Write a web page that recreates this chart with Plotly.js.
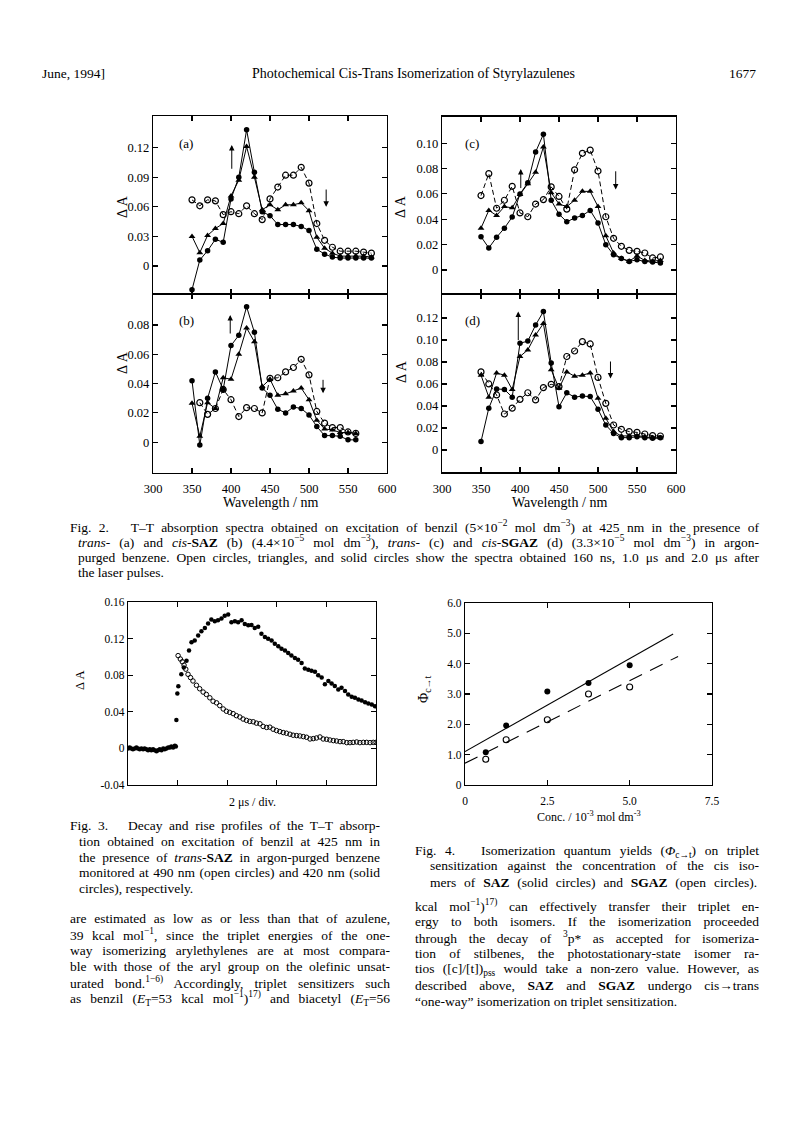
<!DOCTYPE html>
<html><head><meta charset="utf-8">
<script src="https://cdn.plot.ly/plotly-3.0.1.min.js"></script>
<style>html,body{margin:0;padding:0;background:#fff}#chart{width:793px;height:1121px}</style>
</head><body><div id="chart"></div>
<script>
// ---------- DATA ----------
const wavelength = [350,360,370,380,390,400,410,420,430,440,450,460,470,480,490,500,510,520,530,540,550,560,570,580];
const wavelengthB = [350,360,370,380,390,400,410,420,430,440,450,460,470,480,490,500,510,520,530,540,550,560];

// Panel (a) trans-SAZ
const a_open160 = [0.067,0.061,0.067,0.066,0.052,0.055,0.053,0.061,0.053,0.047,0.068,0.080,0.092,0.092,0.100,0.084,0.043,0.026,0.019,0.015,0.015,0.015,0.014,0.013];
const a_tri1us  = [0.030,0.0135,0.031,0.038,0.043,0.071,0.087,0.121,0.090,0.057,0.062,0.057,0.062,0.062,0.064,0.056,0.029,0.018,0.013,0.010,0.010,0.010,0.010,0.009];
const a_solid2us= [-0.024,0.006,0.0155,0.027,0.024,0.068,0.090,0.138,0.095,0.055,0.051,0.042,0.042,0.042,0.040,0.036,0.017,0.012,0.009,0.008,0.008,0.008,0.008,0.008];

// Panel (b) cis-SAZ
const b_open160 = [null,0.027,0.019,0.023,0.036,0.029,0.0175,0.0236,0.023,0.020,0.0436,0.044,0.048,0.051,0.0566,0.046,0.021,0.013,0.010,0.010,0.007,0.006];
const b_tri1us  = [0.0266,0.004,0.027,0.023,0.044,0.043,0.060,0.078,0.0686,0.038,0.043,0.032,0.033,0.035,0.037,0.029,0.015,0.009,0.0084,0.0066,0.0066,0.006];
const b_solid2us= [0.042,-0.002,0.030,0.048,0.036,0.066,0.073,0.0925,0.075,0.037,0.032,0.0225,0.020,0.024,0.023,0.0186,0.0107,0.0045,0.0045,0.004,0.0016,0.0016];

// Panel (c) trans-SGAZ
const c_open160 = [0.0587,0.076,0.0487,0.055,0.066,0.045,0.042,0.052,0.0555,0.0655,0.058,0.048,0.079,0.092,0.0945,0.078,0.042,0.025,0.0187,0.0155,0.0147,0.0134,0.0095,0.0103];
const c_tri1us  = [0.033,0.047,0.043,0.050,0.049,0.0595,0.068,0.077,0.097,0.061,0.052,0.050,0.055,0.062,0.062,0.050,0.027,0.0134,0.009,0.007,0.011,0.0076,0.007,0.0076];
const c_solid2us= [0.0263,0.0174,0.0258,0.033,0.0418,0.060,0.0687,0.093,0.107,0.055,0.044,0.038,0.041,0.043,0.047,0.037,0.020,0.012,0.009,0.0068,0.008,0.0068,0.0063,0.0055];

// Panel (d) cis-SGAZ
const d_open160 = [0.071,0.060,0.050,0.0327,0.038,0.046,0.052,0.0455,0.0567,0.0597,0.0576,0.085,0.090,0.0985,0.0964,0.066,0.0424,0.0227,0.0188,0.0167,0.016,0.0145,0.013,0.0127];
const d_tri1us  = [0.068,0.048,0.070,0.068,0.055,0.085,0.091,0.1045,0.115,0.073,0.056,0.071,0.067,0.068,0.070,0.047,0.0288,0.0167,0.0127,0.0127,0.013,0.012,0.011,0.011];
const d_solid2us= [0.0076,0.038,0.0555,0.055,0.048,0.097,0.099,0.1136,0.1258,0.079,0.0394,0.052,0.048,0.049,0.0485,0.037,0.0227,0.015,0.0112,0.0112,0.012,0.011,0.0106,0.011];

// Fig. 3 time profiles (time in microseconds)
const t420 = [0.00,0.07,0.13,0.20,0.27,0.34,0.40,0.47,0.54,0.61,0.67,0.74,0.81,0.88,0.94,1.01,1.08,1.15,1.21,1.28,1.35,1.42,1.48,1.55,1.62,1.69,1.75,1.82,1.89,1.93,
  1.95,1.99,2.03,2.15,2.25,2.36,2.46,2.56,2.69,2.83,2.96,3.10,3.23,3.36,3.50,3.63,3.77,3.90,4.04,4.17,4.31,4.44,4.58,4.71,4.85,4.98,5.11,5.25,5.38,5.52,5.65,5.79,5.92,6.06,6.19,6.33,6.46,6.59,6.73,6.86,7.00,7.13,7.27,7.40,7.54,7.67,7.81,7.94,8.08,8.21,8.34,8.48,8.61,8.75,8.88,9.02,9.15,9.29,9.42,9.56,9.69,9.83,9.96];
const dA420 = [0.000,0.001,0.000,-0.001,0.000,0.001,0.000,-0.001,0.000,-0.001,0.000,-0.001,-0.002,-0.001,-0.002,-0.001,-0.002,-0.003,-0.002,-0.001,-0.002,0.000,-0.001,0.000,0.001,0.001,0.002,0.001,0.003,0.002,
  0.031,0.060,0.068,0.081,0.0885,0.0959,0.107,0.116,0.118,0.1235,0.128,0.1316,0.1364,0.141,0.139,0.140,0.142,0.145,0.1464,0.138,0.139,0.138,0.140,0.136,0.1346,0.135,0.1316,0.133,0.1253,0.1217,0.1198,0.118,0.1143,0.1117,0.1088,0.107,0.1043,0.1014,0.0988,0.097,0.0933,0.0874,0.0859,0.0848,0.0837,0.080,0.0774,0.070,0.0737,0.0708,0.0682,0.0645,0.0664,0.0627,0.059,0.0564,0.0553,0.0535,0.0524,0.0505,0.049,0.048,0.046];
const t490 = [2.02,2.11,2.19,2.26,2.33,2.42,2.52,2.62,2.76,2.89,3.03,3.16,3.30,3.43,3.57,3.70,3.84,3.97,4.10,4.24,4.37,4.51,4.64,4.78,4.91,5.05,5.18,5.32,5.45,5.59,5.72,5.85,5.99,6.12,6.26,6.39,6.53,6.66,6.80,6.93,7.07,7.20,7.34,7.47,7.60,7.74,7.87,8.01,8.14,8.28,8.41,8.55,8.68,8.82,8.95,9.08,9.22,9.35,9.49,9.62,9.76,9.89,10.0];
const dA490 = [0.1014,0.0977,0.0947,0.091,0.0866,0.081,0.0774,0.0737,0.069,0.0652,0.0616,0.059,0.0553,0.0516,0.0498,0.0468,0.0431,0.0406,0.0394,0.038,0.0358,0.0343,0.0321,0.0306,0.0295,0.0291,0.0276,0.0269,0.024,0.0229,0.0232,0.021,0.0195,0.0184,0.0173,0.0166,0.0155,0.0144,0.014,0.0136,0.0129,0.0122,0.0103,0.0107,0.0114,0.0125,0.0103,0.010,0.0092,0.0085,0.0081,0.0074,0.0074,0.0063,0.0063,0.0066,0.007,0.0063,0.0066,0.0066,0.0063,0.0066,0.0066];

// Fig. 4 quantum yields
const conc = [0.63,1.25,2.5,3.75,5.0];
const phiSAZ = [1.08,1.96,3.08,3.36,3.95];
const phiSGAZ = [0.85,1.49,2.15,3.0,3.23];
const fitSAZ_x = [0,6.32], fitSAZ_y = [1.1,4.98];
const fitSGAZ_x = [0,6.47], fitSGAZ_y = [0.72,4.24];

// tick labels
const wlTicks = [300,350,400,450,500,550,600];
const wlTickText = ['300','350','400','450','500','550','600'];
const aTicks = [0,0.03,0.06,0.09,0.12], aTickText = ['0','0.03','0.06','0.09','0.12'];
const bTicks = [0,0.02,0.04,0.06,0.08], bTickText = ['0','0.02','0.04','0.06','0.08'];
const cTicks = [0,0.02,0.04,0.06,0.08,0.10], cTickText = ['0','0.02','0.04','0.06','0.08','0.10'];
const dTicks = [0,0.02,0.04,0.06,0.08,0.10,0.12], dTickText = ['0','0.02','0.04','0.06','0.08','0.10','0.12'];
const f3yTicks = [-0.04,0,0.04,0.08,0.12,0.16], f3yText = ['-0.04','0','0.04','0.08','0.12','0.16'];
const f3xTicks = [0,2,4,6,8,10];
const f4xTicks = [0,2.5,5.0,7.5], f4xText = ['0','2.5','5.0','7.5'];
const f4yTicks = [0,1,2,3,4,5,6], f4yText = ['0','1.0','2.0','3.0','4.0','5.0','6.0'];

// ---------- LAYOUT HELPERS ----------
const W = 793, H = 1121;
const FX = v => v / W, FY = v => 1 - v / H;
const SERIF = 'Liberation Serif, Times New Roman, serif';

function ax(extra) {
  return Object.assign({
    showline: true, mirror: 'ticks', linecolor: '#000', linewidth: 1.2,
    ticks: 'inside', ticklen: 5, tickwidth: 1.1, tickcolor: '#000',
    zeroline: false, showgrid: false, fixedrange: true,
    tickfont: {family: SERIF, size: 12.5, color: '#000'}, tickmode: 'array'
  }, extra);
}

const traces = [];
function panel(xs, op, tr, so, n) {
  const xa = 'x' + (n === 1 ? '' : n), ya = 'y' + (n === 1 ? '' : n);
  traces.push({x: xs, y: op, xaxis: xa, yaxis: ya, mode: 'lines+markers', connectgaps: false,
    line: {color: '#000', width: 1, dash: '5px,3px'}, marker: {symbol: 'circle-open', size: 6, color: '#000', line: {width: 1.2, color: '#000'}}});
  traces.push({x: xs, y: tr, xaxis: xa, yaxis: ya, mode: 'lines+markers',
    line: {color: '#000', width: 1}, marker: {symbol: 'triangle-up', size: 6, color: '#000'}});
  traces.push({x: xs, y: so, xaxis: xa, yaxis: ya, mode: 'lines+markers',
    line: {color: '#000', width: 1}, marker: {symbol: 'circle', size: 5.5, color: '#000'}});
}
panel(wavelength, a_open160, a_tri1us, a_solid2us, 1);
panel(wavelengthB, b_open160, b_tri1us, b_solid2us, 2);
panel(wavelength, c_open160, c_tri1us, c_solid2us, 3);
panel(wavelength, d_open160, d_tri1us, d_solid2us, 4);

traces.push({x: t420, y: dA420, xaxis: 'x5', yaxis: 'y5', mode: 'markers', marker: {symbol: 'circle', size: 4.5, color: '#000'}});
traces.push({x: t490, y: dA490, xaxis: 'x5', yaxis: 'y5', mode: 'markers', marker: {symbol: 'circle-open', size: 4.5, color: '#000', line: {width: 1, color: '#000'}}});

traces.push({x: fitSAZ_x, y: fitSAZ_y, xaxis: 'x6', yaxis: 'y6', mode: 'lines', line: {color: '#000', width: 1.1}});
traces.push({x: fitSGAZ_x, y: fitSGAZ_y, xaxis: 'x6', yaxis: 'y6', mode: 'lines', line: {color: '#000', width: 1.1, dash: '14px,9px'}});
traces.push({x: conc, y: phiSAZ, xaxis: 'x6', yaxis: 'y6', mode: 'markers', marker: {symbol: 'circle', size: 6, color: '#000'}});
traces.push({x: conc, y: phiSGAZ, xaxis: 'x6', yaxis: 'y6', mode: 'markers', marker: {symbol: 'circle-open', size: 6, color: '#000', line: {width: 1.1, color: '#000'}}});

const dxL = [FX(153), FX(387)], dxR = [FX(442), FX(676)];
const small = {family: SERIF, size: 11.5, color: '#000'};
const layout = {
  width: W, height: H, margin: {l: 0, r: 0, t: 0, b: 0},
  paper_bgcolor: '#fff', plot_bgcolor: 'rgba(0,0,0,0)', showlegend: false,
  font: {family: SERIF, color: '#000'},
  xaxis:  ax({domain: dxL, anchor: 'y', range: [300, 600], tickvals: wlTicks, showticklabels: false}),
  yaxis:  ax({domain: [FY(294), FY(116)], anchor: 'x', range: [-0.0284, 0.152], tickvals: aTicks, ticktext: aTickText}),
  xaxis2: ax({domain: dxL, anchor: 'y2', range: [300, 600], tickvals: wlTicks, ticktext: wlTickText, ticklabelstandoff: 4}),
  yaxis2: ax({domain: [FY(472.5), FY(294)], anchor: 'x2', range: [-0.0207, 0.1012], tickvals: bTicks, ticktext: bTickText}),
  xaxis3: ax({domain: dxR, anchor: 'y3', range: [300, 600], tickvals: wlTicks, showticklabels: false}),
  yaxis3: ax({domain: [FY(294), FY(116.5)], anchor: 'x3', range: [-0.0189, 0.121], tickvals: cTicks, ticktext: cTickText}),
  xaxis4: ax({domain: dxR, anchor: 'y4', range: [300, 600], tickvals: wlTicks, ticktext: wlTickText, ticklabelstandoff: 4}),
  yaxis4: ax({domain: [FY(472.3), FY(294)], anchor: 'x4', range: [-0.0203, 0.1418], tickvals: dTicks, ticktext: dTickText}),
  xaxis5: ax({domain: [FX(128), FX(376)], anchor: 'y5', range: [0, 10], tickvals: f3xTicks, showticklabels: false}),
  yaxis5: ax({domain: [FY(785), FY(602)], anchor: 'x5', range: [-0.04, 0.16], tickvals: f3yTicks, ticktext: f3yText, tickfont: small}),
  xaxis6: ax({domain: [FX(465), FX(712)], anchor: 'y6', range: [0, 7.5], tickvals: f4xTicks, ticktext: f4xText, tickfont: small, ticklabelstandoff: 5}),
  yaxis6: ax({domain: [FY(785), FY(603)], anchor: 'x6', range: [0, 6], tickvals: f4yTicks, ticktext: f4yText, tickfont: small}),
  annotations: []
};

const ann = layout.annotations, justify = [];
function txt(x, y, text, size, opts, jw) {
  ann.push(Object.assign({xref: 'paper', yref: 'paper', x: FX(x), y: FY(y), text: text, showarrow: false,
    xanchor: 'left', yanchor: 'middle', align: 'left', font: {family: SERIF, size: size, color: '#000'}}, opts || {}));
  justify.push(jw || null);
}
function arrow(xr, yr, x, y0, y1) {
  ann.push({xref: xr, yref: yr, axref: xr, ayref: yr, x: x, y: y1, ax: x, ay: y0, text: '', showarrow: true,
    arrowhead: 2, arrowsize: 1.1, arrowwidth: 1, arrowcolor: '#000'});
  justify.push(null);
}

// header
txt(40, 73, 'June, 1994]', 13.5);
txt(413, 73, 'Photochemical Cis-Trans Isomerization of Styrylazulenes', 14, {xanchor: 'center'});
txt(758, 73, '1677', 13.5, {xanchor: 'right'});

// panel letters
txt(177, 143, '(a)', 13); txt(177, 320, '(b)', 13);
txt(463, 143, '(c)', 13); txt(463, 320, '(d)', 13);

// y titles
const rot = {xanchor: 'center', textangle: -90};
txt(123, 206, 'Δ A', 14, rot); txt(123, 362, 'Δ A', 14, rot);
txt(401, 207, 'Δ A', 14, rot); txt(401, 372, 'Δ A', 14, rot);
txt(80, 680, 'Δ A', 12.5, rot);
txt(424, 690, 'Φ<sub>c→t</sub>', 14, rot);

// x titles
txt(270, 502, 'Wavelength / nm', 14, {xanchor: 'center'});
txt(559, 502, 'Wavelength / nm', 14, {xanchor: 'center'});
txt(252, 802, '2 μs / div.', 12, {xanchor: 'center'});
txt(589, 816, 'Conc. / 10<sup>-3</sup> mol dm<sup>-3</sup>', 12, {xanchor: 'center'});

// arrows
arrow('x', 'y', 401, 0.097, 0.1226);
arrow('x', 'y', 522, 0.079, 0.060);
arrow('x2', 'y2', 399, 0.0732, 0.0869);
arrow('x2', 'y2', 518, 0.0436, 0.0334);
arrow('x3', 'y3', 401, 0.0634, 0.0797);
arrow('x3', 'y3', 522.7, 0.079, 0.0634);
arrow('x4', 'y4', 397.8, 0.0985, 0.1258);
arrow('x4', 'y4', 516, 0.0818, 0.065);

// captions
const CS = 13.5, G = '\u00a0\u00a0\u00a0';
txt(68, 526, 'Fig. 2.' + G + 'T–T absorption spectra obtained on excitation of benzil (5×10<sup>−2</sup> mol dm<sup>−3</sup>) at 425 nm in the presence of', CS, null, 689);
txt(76, 541, '<i>trans</i>- (a) and <i>cis</i>-<b>SAZ</b> (b) (4.4×10<sup>−5</sup> mol dm<sup>−3</sup>), <i>trans</i>- (c) and <i>cis</i>-<b>SGAZ</b> (d) (3.3×10<sup>−5</sup> mol dm<sup>−3</sup>) in argon-', CS, null, 681);
txt(76, 557, 'purged benzene. Open circles, triangles, and solid circles show the spectra obtained 160 ns, 1.0 μs and 2.0 μs after', CS, null, 681);
txt(76, 572, 'the laser pulses.', CS);

txt(68, 825, 'Fig. 3.' + G + 'Decay and rise profiles of the T–T absorp-', CS, null, 310);
txt(77, 841, 'tion obtained on excitation of benzil at 425 nm in', CS, null, 301);
txt(77, 857, 'the presence of <i>trans</i>-<b>SAZ</b> in argon-purged benzene', CS, null, 301);
txt(77, 872, 'monitored at 490 nm (open circles) and 420 nm (solid', CS, null, 301);
txt(77, 888, 'circles), respectively.', CS);

txt(413, 851, 'Fig. 4.' + G + 'Isomerization quantum yields (<i>Φ</i><sub>c→t</sub>) on triplet', CS, null, 344);
txt(428, 866, 'sensitization against the concentration of the cis iso-', CS, null, 329);
txt(428, 882, 'mers of <b>SAZ</b> (solid circles) and <b>SGAZ</b> (open circles).', CS, null, 327);

// body text
const BS = 13.5;
const left = [
  'are estimated as low as or less than that of azulene,',
  '39 kcal mol<sup>−1</sup>, since the triplet energies of the one-',
  'way isomerizing arylethylenes are at most compara-',
  'ble with those of the aryl group on the olefinic unsat-',
  'urated bond.<sup>1−6)</sup> Accordingly, triplet sensitizers such',
  'as benzil (<i>E</i><sub>T</sub>=53 kcal mol<sup>−1</sup>)<sup>17)</sup> and biacetyl (<i>E</i><sub>T</sub>=56'
];
left.forEach((s, i) => txt(68, 918 + 16 * i, s, BS, null, 320));
const right = [
  'kcal mol<sup>−1</sup>)<sup>17)</sup> can effectively transfer their triplet en-',
  'ergy to both isomers. If the isomerization proceeded',
  'through the decay of <sup>3</sup>p* as accepted for isomeriza-',
  'tion of stilbenes, the photostationary-state isomer ra-',
  'tios ([c]/[t])<sub>pss</sub> would take a non-zero value. However, as',
  'described above, <b>SAZ</b> and <b>SGAZ</b> undergo cis→trans',
  '“one-way” isomerization on triplet sensitization.'
];
right.forEach((s, i) => txt(413, 905 + 16 * i, s, BS, null, i < 6 ? 344 : null));

Plotly.newPlot('chart', traces, layout, {staticPlot: true, displayModeBar: false}).then(gd => {
  justify.forEach((w, i) => {
    if (!w) return;
    const el = gd.querySelector('.annotation[data-index="' + i + '"] text.annotation-text');
    if (!el) return;
    const nat = el.getComputedTextLength();
    const spaces = (el.textContent.match(/[ \u00a0]/g) || []).length;
    if (nat < w && spaces > 0) {
      el.style.wordSpacing = ((w - nat) / spaces).toFixed(2) + 'px';
    } else if (nat > w) {
      el.setAttribute('textLength', w);
      el.setAttribute('lengthAdjust', 'spacingAndGlyphs');
    }
  });
});
</script></body></html>
